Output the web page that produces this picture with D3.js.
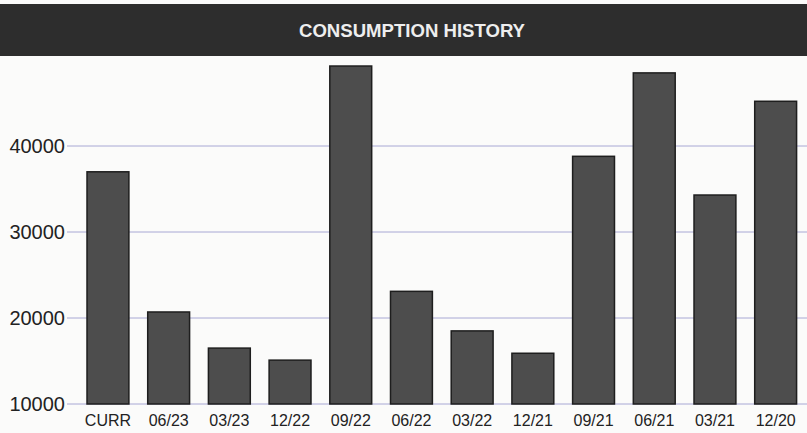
<!DOCTYPE html>
<meta charset="utf-8">
<head>
<style>
body { margin: 0; background: #fbfbfa; }
svg { display: block; }
.title { font: bold 18px "Liberation Sans", Arial, sans-serif; fill: #eeeeee; text-anchor: middle; }
.yaxis text { font: 20px "Liberation Sans", Arial, sans-serif; fill: #222; }
.xaxis text { font: 16px "Liberation Sans", Arial, sans-serif; fill: #222; }
.grid line { stroke: #a8a8d4; stroke-width: 1; }
.bars rect { fill: #4d4d4d; stroke: #1e1e1e; stroke-width: 1.5; }
</style>
<script src="https://d3js.org/d3.v7.min.js"></script>
</head>
<body>
<svg width="807" height="433"></svg>
<script>

var categories = ["CURR", "06/23", "03/23", "12/22", "09/22", "06/22", "03/22", "12/21", "09/21", "06/21", "03/21", "12/20"];
var consumption = [37000, 20700, 16500, 15100, 49300, 23100, 18500, 15900, 38800, 48500, 34300, 45200];
var yTicks = [10000, 20000, 30000, 40000];
var titleText = "CONSUMPTION HISTORY";

var svg = d3.select("svg"),
    width = +svg.attr("width"),
    height = +svg.attr("height");

// header bar
svg.append("rect")
    .attr("x", 0).attr("y", 4)
    .attr("width", width).attr("height", 52)
    .attr("fill", "#2d2d2d");
svg.append("text")
    .attr("class", "title")
    .attr("x", 412).attr("y", 37)
    .attr("textLength", 226)
    .attr("lengthAdjust", "spacingAndGlyphs")
    .text(titleText);

var x = d3.scaleBand()
    .domain(categories)
    .range([77.6, 806])
    .paddingInner(0.31)
    .paddingOuter(0.155);

var y = d3.scaleLinear()
    .domain([10000, 50000])
    .range([404, 60]);

// gridlines
svg.append("g")
    .attr("class", "grid")
  .selectAll("line")
  .data(yTicks)
  .enter().append("line")
    .attr("x1", 67).attr("x2", width)
    .attr("y1", function(d) { return y(d); })
    .attr("y2", function(d) { return y(d); })
    .attr("stroke", function(d) { return d == 10000 ? "#c8a0b0" : null; });

var yAxis = svg.append("g")
    .attr("class", "yaxis")
    .attr("transform", "translate(67,0)")
    .call(d3.axisLeft(y).tickValues(yTicks).tickFormat(d3.format("d")).tickSize(0).tickPadding(2));
yAxis.select(".domain").remove();

// bars
svg.append("g")
    .attr("class", "bars")
  .selectAll("rect")
  .data(consumption)
  .enter().append("rect")
    .attr("x", function(d, i) { return x(categories[i]); })
    .attr("width", x.bandwidth())
    .attr("y", function(d) { return y(d); })
    .attr("height", function(d) { return y(10000) - y(d); });

var xAxis = svg.append("g")
    .attr("class", "xaxis")
    .attr("transform", "translate(0,404)")
    .call(d3.axisBottom(x).tickSize(0).tickPadding(11));
xAxis.select(".domain").remove();

</script>
</body>
